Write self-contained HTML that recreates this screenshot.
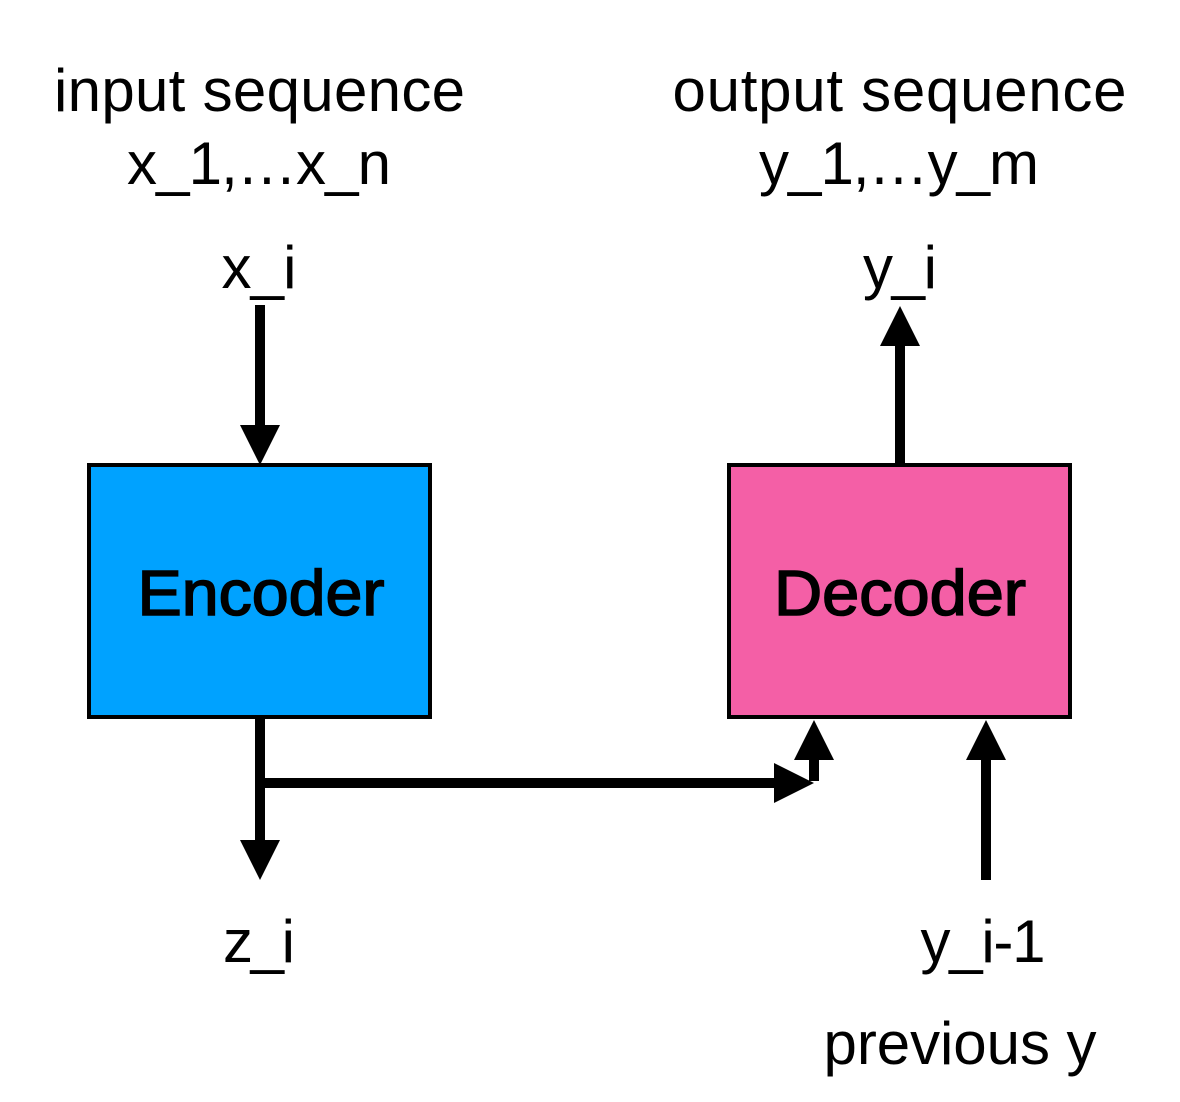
<!DOCTYPE html>
<html>
<head>
<meta charset="utf-8">
<style>
html,body{margin:0;padding:0;background:#fff;width:1180px;height:1102px;overflow:hidden}
svg{display:block}
text{font-family:"Liberation Sans",sans-serif;fill:#000;text-anchor:middle}
</style>
</head>
<body>
<svg width="1180" height="1102" viewBox="0 0 1180 1102" xmlns="http://www.w3.org/2000/svg">
<rect width="1180" height="1102" fill="#fff"/>
<text x="259.5" y="111" font-size="60" textLength="411">input sequence</text>
<text x="259" y="184" font-size="60" textLength="264">x_1,…x_n</text>
<text x="899.5" y="111" font-size="60" textLength="454">output sequence</text>
<text x="899" y="184" font-size="60" textLength="280">y_1,…y_m</text>
<text x="259" y="288" font-size="60" textLength="75">x_i</text>
<text x="900" y="288" font-size="60" textLength="74">y_i</text>
<rect x="89" y="465" width="341" height="252" fill="#00a2ff" stroke="#000" stroke-width="4"/>
<rect x="729" y="465" width="341" height="252" fill="#f45fa6" stroke="#000" stroke-width="4"/>
<text x="261" y="615" font-size="64" stroke="#000" stroke-width="1.6" textLength="247" lengthAdjust="spacingAndGlyphs">Encoder</text>
<text x="900" y="615" font-size="64" stroke="#000" stroke-width="1.6" textLength="252" lengthAdjust="spacingAndGlyphs">Decoder</text>
<rect x="255" y="305" width="10" height="122" fill="#000"/>
<polygon points="240,425 280,425 260,465" fill="#000"/>
<rect x="895" y="344" width="10" height="121" fill="#000"/>
<polygon points="880,346 920,346 900,306" fill="#000"/>
<rect x="255" y="717" width="10" height="125" fill="#000"/>
<polygon points="240,840 280,840 260,880" fill="#000"/>
<rect x="260" y="778" width="516" height="10" fill="#000"/>
<polygon points="774,763 774,803 814,783" fill="#000"/>
<rect x="809" y="758" width="10" height="23" fill="#000"/>
<polygon points="794,760 834,760 814,720" fill="#000"/>
<rect x="981" y="758" width="10" height="122" fill="#000"/>
<polygon points="966,760 1006,760 986,720" fill="#000"/>
<text x="259" y="962" font-size="60" textLength="72">z_i</text>
<text x="983" y="962" font-size="60" textLength="125">y_i-1</text>
<text x="960" y="1064" font-size="60" textLength="273">previous y</text>
</svg>
</body>
</html>
